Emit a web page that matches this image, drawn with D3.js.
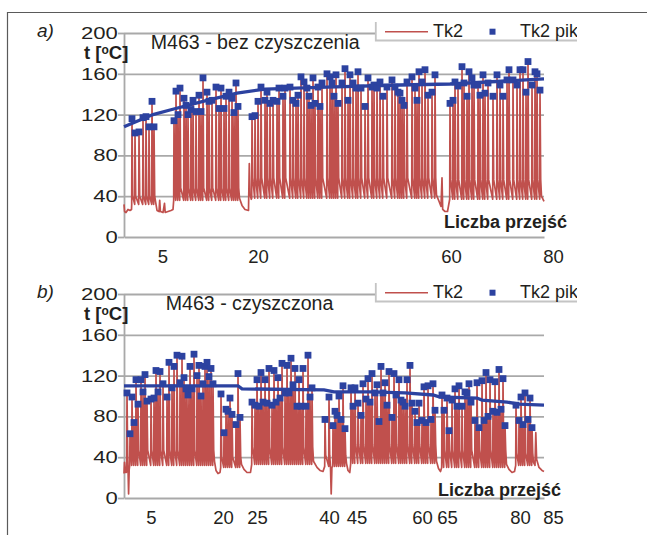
<!DOCTYPE html>
<html>
<head>
<meta charset="utf-8">
<script src="https://cdn.jsdelivr.net/npm/d3@7"></script>
<style>
  body { margin: 0; background: #fff; }
  text { font-family: "Liberation Sans", Arial, sans-serif; fill: #231f20; }
</style>
</head>
<body>
<svg id="chart" width="647" height="535"></svg>
<script>
// ---- panel a) M463 - bez czyszczenia ----
// peak times (time axis units) and peak values, one array per run of passes
const aPeakT = [
  [8, 11, 15, 19, 22, 25, 28, 30],
  [50, 52, 54, 56, 60, 62, 64, 67, 69, 72, 75, 77, 79, 83, 85, 88, 92, 95, 97, 100, 102, 105, 108, 110, 112, 114],
  [128, 131, 134, 137, 141, 143, 146, 149, 153, 155, 159, 161, 166, 169, 172, 174, 177, 180, 183, 185,
   187, 189, 191, 194, 196, 198, 203, 206, 208, 210, 212, 214, 218, 221, 224, 226, 229, 232, 234, 237,
   241, 244, 248, 250, 253, 256, 259, 263, 268, 271, 274, 276, 278, 280, 283, 288, 291, 293, 295, 298,
   301, 304, 308, 311],
  [326, 329, 331, 334, 338, 340, 343, 345, 348, 350, 354, 356, 359, 361, 364, 369, 373, 376, 379, 383,
   385, 389, 393, 396, 399, 402, 404, 408, 411, 413, 416]
];
const aPeakV = [
  [116, 102, 103, 117, 118, 108, 133, 108],
  [114, 143, 120, 146, 136, 129, 120, 125, 134, 123, 139, 123, 156, 142, 133, 134, 147, 126, 146, 126, 138, 142, 136, 122, 151, 128],
  [118, 119, 133, 147, 134, 142, 131, 134, 133, 146, 138, 146, 147, 134, 131, 139, 157, 152, 146, 138,
   129, 156, 131, 147, 128, 151, 160, 157, 151, 138, 159, 131, 151, 165, 134, 159, 151, 146, 162, 146,
   128, 156, 147, 149, 146, 152, 138, 147, 154, 147, 142, 141, 134, 129, 152, 157, 146, 134, 162, 152,
   164, 139, 142, 159],
  [131, 134, 152, 148, 167, 151, 138, 162, 156, 149, 149, 139, 159, 141, 151, 138, 159, 149, 138, 154,
   164, 154, 149, 164, 164, 142, 172, 149, 162, 160, 144]
];
const aTrough = [32, 36, 38, 37];
const aKnee = [40, 48, 58, 56];
// Tk2 between runs (time, value)
const aIdle = [
  [[0, 32], [0.6, 25], [2, 24], [4, 27], [6, 26], [7.5, 27]],
  [[31.5, 35], [33, 26], [35, 25], [35.7, 36], [36.4, 25], [39, 24], [40.5, 33], [41.2, 24], [44, 25], [47, 26], [49, 27]],
  [[115.5, 38], [118, 31], [121, 27], [124.5, 26], [125.3, 72], [126, 42], [127.3, 37]],
  [[312.5, 41], [315, 35], [317, 30], [318, 58], [318.7, 27], [321, 25], [323.5, 25]],
  [[417.5, 40], [420, 35]]
];
const aTrend = [[0, 108], [29, 120], [46, 124.5], [79, 133], [113, 141], [141, 145], [203, 147], [276, 149], [326, 150], [420, 155]];
const aTickT = [38.5, 134, 327, 429];
const aTickLabels = ["5", "20", "60", "80"];

// ---- panel b) M463 - czyszczona ----
const bPeakT = [
  [3],
  [6, 8, 10, 12, 14, 17, 19, 21, 23, 27, 30, 32, 34, 36, 39, 43, 45, 48, 50, 53,
   56, 58, 60, 62, 64, 66, 68, 70, 73, 75, 77, 79, 81, 83, 85, 87, 89],
  [97, 100, 102, 104, 106, 108, 112, 114, 116],
  [128, 131, 133, 135, 137, 139, 141, 143, 145, 148, 150, 152, 154, 156, 158, 161, 163, 165, 167, 169,
   171, 173, 175, 177, 179, 182, 184, 186, 188],
  [201, 205],
  [209, 211, 213, 215, 217, 219, 221],
  [227, 229, 231, 234, 237, 239, 242, 244, 246, 248, 251, 253, 255, 257, 259, 261, 263, 265, 268, 270,
   272, 275, 277, 279, 281, 283, 286, 288, 291, 293, 295, 298, 300, 302, 304, 307, 309, 311],
  [318, 320, 323, 325, 328, 331, 333, 335, 338, 341, 343, 345, 347, 351, 353, 355, 358, 360, 362, 364,
   366, 369, 371, 373, 375, 377, 379, 381],
  [392, 395, 397, 399, 401, 404, 406, 408]
];
const bPeakV = [
  [103],
  [63, 99, 74, 116, 92, 116, 104, 121, 95, 97, 98, 125, 104, 124, 112, 99, 133, 108, 129, 140,
   113, 139, 118, 107, 101, 129, 107, 141, 120, 130, 100, 112, 129, 133, 119, 127, 112],
  [102, 64, 87, 85, 98, 82, 72, 122, 79],
  [94, 91, 116, 90, 123, 94, 116, 93, 127, 91, 125, 94, 118, 98, 132, 103, 130, 103, 137, 111,
   127, 90, 116, 90, 127, 90, 140, 99, 108],
  [77, 99],
  [71, 85, 81, 100, 77, 110, 68],
  [108, 90, 108, 93, 81, 112, 97, 117, 94, 122, 103, 111, 75, 129, 103, 113, 91, 124, 79, 122,
   101, 116, 96, 94, 90, 116, 130, 93, 85, 74, 93, 76, 109, 74, 110, 77, 112, 86],
  [101, 86, 98, 66, 96, 107, 90, 110, 90, 104, 103, 112, 94, 76, 113, 69, 115, 76, 123, 80,
   116, 85, 114, 84, 126, 87, 117, 71],
  [91, 76, 99, 72, 103, 77, 98, 69]
];
const bTrough = [30, 32, 30, 33, 31, 31, 34, 30, 32];
const bKnee = [40, 47, 40, 50, 42, 42, 52, 47, 44];
const bIdle = [
  [[0, 24], [0.5, 35], [1.5, 25], [2.4, 25]],
  [[4, 30], [4.6, 4], [5.2, 28]],
  [[90.5, 36], [92, 27], [94, 24], [96, 25]],
  [[117.5, 33], [120, 28], [123, 25], [126.5, 25]],
  [[189.5, 36], [193, 30], [196, 27], [199, 26]],
  [[206.5, 30], [207.2, 4], [207.9, 30]],
  [[222.5, 34], [224, 27], [225.8, 25]],
  [[312.5, 36], [314.5, 29], [316.5, 26]],
  [[382.5, 33], [385, 28], [388, 25], [390.5, 26]],
  [[409.5, 35], [411, 32], [411.8, 64], [412.6, 38], [415, 30], [418, 27], [420, 26]]
];
const bTrend = [[0, 110], [114, 110], [118, 107], [200, 106], [210, 104], [246, 104], [281, 103], [309, 101], [316, 99], [353, 98], [358, 96], [383, 94], [395, 92], [420, 91]];
const bTickT = [27, 99, 133, 205, 232.5, 298, 323, 396, 429];
const bTickLabels = ["5", "20", "25", "40", "45", "60", "65", "80", "85"];

const yTicks = [0, 40, 80, 120, 160, 200];

const RED = "#c0504d", BLUE = "#2c42a0", GRID = "#a9a9a9";

const svg = d3.select("#chart");

// outer frame
svg.append("line").attr("x1", 7).attr("x2", 647).attr("y1", 12.5).attr("y2", 12.5)
  .attr("stroke", "#5a5a5a").attr("stroke-width", 1.2);
svg.append("line").attr("x1", 7.5).attr("x2", 7.5).attr("y1", 12).attr("y2", 535)
  .attr("stroke", "#5a5a5a").attr("stroke-width", 1.2);

// Tk2 line: rise to each peak, quick drop, slow decay to the run's trough
function tk2Points(times, peaks, trough, knee, idle) {
  const pts = [];
  times.forEach((run, ri) => {
    idle[ri].forEach(p => pts.push(p));
    run.forEach((t, i) => {
      pts.push([t - 0.3, trough[ri]]);
      pts.push([t, peaks[ri][i]]);
      pts.push([t + 0.7, knee[ri]]);
    });
  });
  idle[times.length].forEach(p => pts.push(p));
  return pts;
}

function panel(opt) {
  const x = d3.scaleLinear().domain([0, 420]).range([124, 544]);
  const y = d3.scaleLinear().domain([0, 200]).range([opt.bottom, opt.bottom - 204]);
  const g = svg.append("g");

  // grid
  g.append("g")
    .attr("transform", "translate(124,0)")
    .call(d3.axisLeft(y).tickValues(yTicks.slice(1)).tickSize(-420).tickFormat(""))
    .call(s => s.select(".domain").remove())
    .selectAll("line").attr("stroke", GRID).attr("stroke-width", 1.8);

  // y axis
  const ya = g.append("g")
    .attr("transform", "translate(124,0)")
    .call(d3.axisLeft(y).tickValues(yTicks).tickSize(6).tickSizeOuter(0));
  ya.select(".domain").attr("stroke", GRID).attr("stroke-width", 1.8);
  ya.selectAll(".tick line").attr("stroke", GRID).attr("stroke-width", 1.8);
  ya.selectAll(".tick text")
    .attr("x", -4.7).attr("transform", "scale(1.3,1)")
    .style("font-size", "17px").attr("fill", "#231f20");

  // x axis
  const xa = g.append("g")
    .attr("transform", `translate(0,${opt.bottom})`)
    .call(d3.axisBottom(x).tickValues(opt.tickT)
      .tickFormat((d, i) => opt.tickLabels[i]).tickSize(0).tickSizeOuter(0).tickPadding(13));
  xa.select(".domain").attr("stroke", GRID).attr("stroke-width", 1.8);
  xa.selectAll(".tick text").style("font-size", "18.5px").attr("fill", "#231f20");

  // Tk2
  const line = d3.line().x(d => x(d[0])).y(d => y(d[1]));
  g.append("path")
    .datum(tk2Points(opt.peakT, opt.peakV, opt.trough, opt.knee, opt.idle))
    .attr("fill", "none").attr("stroke", RED).attr("stroke-width", 1.7)
    .attr("stroke-linejoin", "round")
    .attr("d", line);

  // trend
  g.append("path")
    .datum(opt.trend)
    .attr("fill", "none").attr("stroke", BLUE).attr("stroke-width", 3.3)
    .attr("d", line);

  // Tk2 pik
  const pik = d3.merge(opt.peakT.map((run, ri) => run.map((t, i) => [t, opt.peakV[ri][i]])));
  g.selectAll("rect.pik").data(pik).join("rect")
    .attr("class", "pik")
    .attr("x", d => x(d[0]) - 3.4).attr("y", d => y(d[1]) - 3.4)
    .attr("width", 6.8).attr("height", 6.8)
    .attr("fill", BLUE);

  const top = opt.bottom - 204;

  // labels
  g.append("text").attr("x", 37).attr("y", top + 4)
    .style("font-size", "19px").style("font-style", "italic").text(opt.letter);
  g.append("text").attr("x", 84).attr("y", top + 25.5)
    .style("font-size", "18.5px").style("font-weight", "bold")
    .text("t [")
    .call(t => t.append("tspan").attr("dy", -5).style("font-size", "12px").text("o"))
    .call(t => t.append("tspan").attr("dy", 5).text("C]"));
  g.append("text").attr("x", opt.titleX).attr("y", top + 16.3)
    .style("font-size", "19.6px").text(opt.title);
  g.append("text").attr("x", opt.xlabX).attr("y", opt.bottom + opt.xlabDy)
    .style("font-size", "18px").style("font-weight", "bold").text("Liczba przejść");

  // legend
  const ly = top - 11;
  const lg = g.append("g");
  const clipId = "clip" + opt.letter[0];
  lg.append("clipPath").attr("id", clipId)
    .append("rect").attr("x", 375).attr("y", ly).attr("width", 202).attr("height", 19);
  lg.append("rect").attr("x", 375).attr("y", ly).attr("width", 202).attr("height", 18.5)
    .attr("fill", "#fff");
  lg.append("path").attr("d", `M375.8,${ly} V${ly + 18.5} H577`)
    .attr("fill", "none").attr("stroke", "#c4c4c4").attr("stroke-width", 1.8);
  lg.append("line").attr("x1", 385).attr("x2", 428).attr("y1", ly + 9.7).attr("y2", ly + 9.7)
    .attr("stroke", RED).attr("stroke-width", 1.5);
  lg.append("text").attr("x", 433).attr("y", ly + 15).style("font-size", "18px").text("Tk2");
  lg.append("rect").attr("x", 489.5).attr("y", ly + 6.7).attr("width", 6).attr("height", 6).attr("fill", BLUE);
  lg.append("text").attr("x", 520).attr("y", ly + 15).style("font-size", "18px")
    .attr("clip-path", `url(#${clipId})`).text("Tk2 pik");
}

panel({
  letter: "a)", bottom: 237, title: "M463 - bez czyszczenia", titleX: 150.7,
  xlabX: 444, xlabDy: -9,
  peakT: aPeakT, peakV: aPeakV, trough: aTrough, knee: aKnee, idle: aIdle, trend: aTrend,
  tickT: aTickT, tickLabels: aTickLabels
});
panel({
  letter: "b)", bottom: 498, title: "M463 - czyszczona", titleX: 165.7,
  xlabX: 438, xlabDy: -2,
  peakT: bPeakT, peakV: bPeakV, trough: bTrough, knee: bKnee, idle: bIdle, trend: bTrend,
  tickT: bTickT, tickLabels: bTickLabels
});
</script>
</body>
</html>
